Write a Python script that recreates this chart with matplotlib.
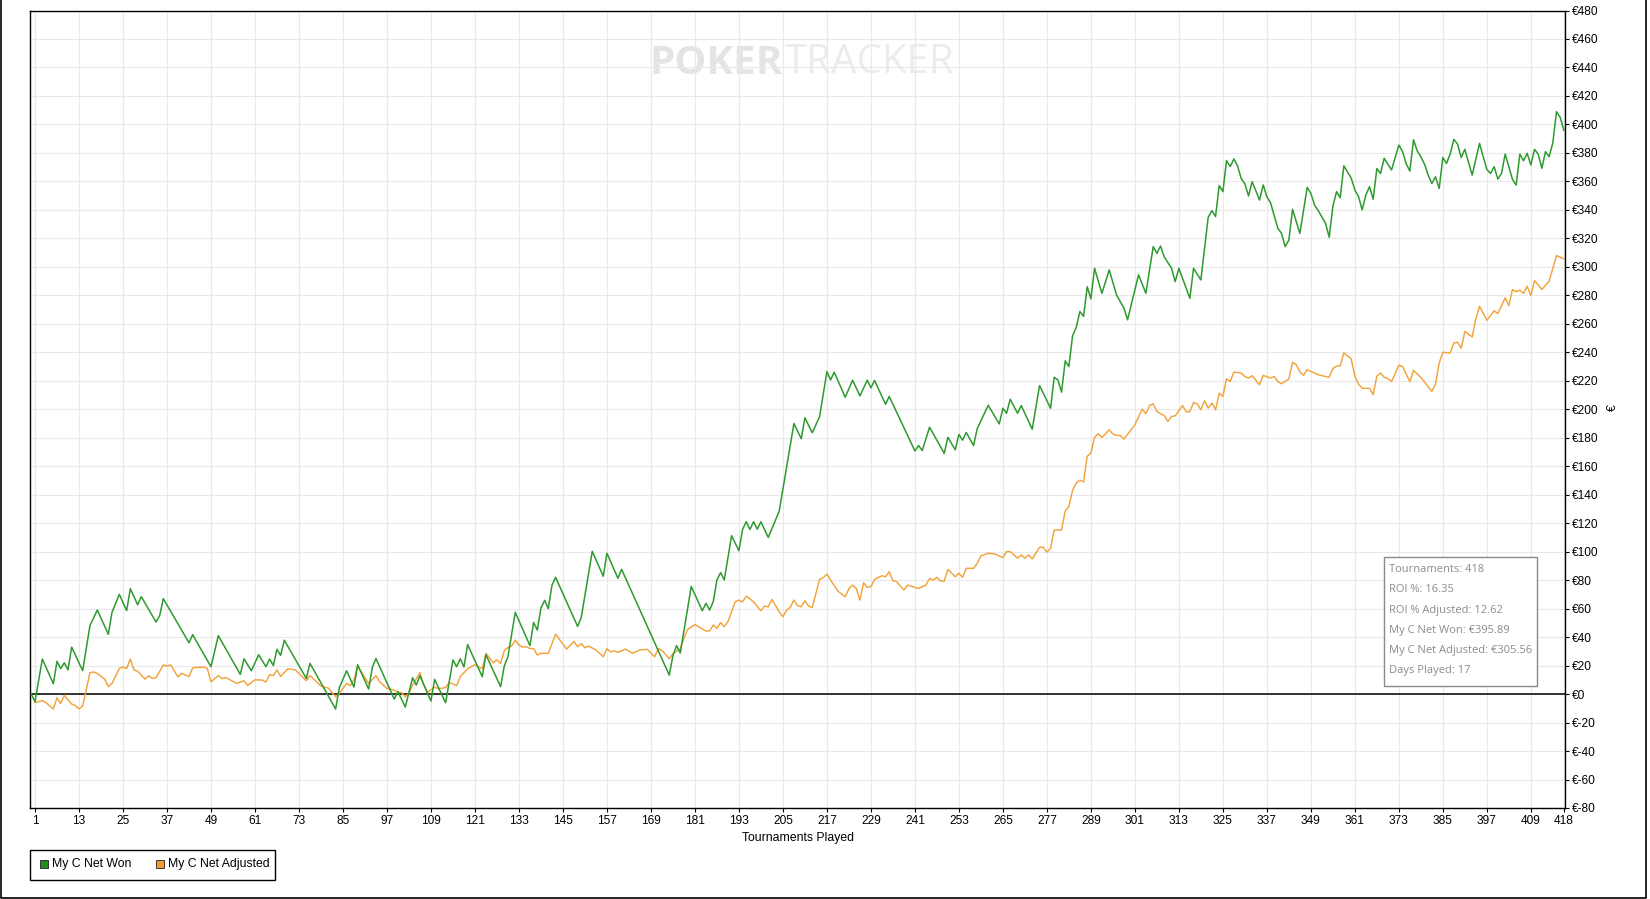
import matplotlib
matplotlib.use("Agg")
import matplotlib.pyplot as plt
from matplotlib.patches import Rectangle
from matplotlib.lines import Line2D

# ---------------- data (cumulative € by tournament, vertices of the curves) ----------------
won_t = [0, 1, 3, 6, 7, 8, 9, 10, 11, 14, 16, 18, 21, 22, 24, 26, 27, 29, 30, 34, 35, 36, 43, 44, 49, 51,
         57, 58, 60, 62, 64, 65, 66, 67, 68, 69, 75, 76, 83, 84, 86, 88, 89, 92, 93, 94, 99, 100, 102, 104,
         105, 106, 109, 110, 113, 115, 116, 117, 118, 119, 123, 124, 128, 129, 130, 132, 136, 137, 138, 139,
         140, 141, 142, 143, 149, 150, 153, 156, 157, 160, 161, 174, 175, 176, 177, 180, 183, 184, 185, 186,
         187, 188, 189, 191, 193, 194, 195, 196, 197, 198, 199, 201, 204, 208, 210, 211, 213, 215, 217, 218,
         219, 222, 224, 226, 228, 229, 230, 233, 234, 241, 242, 243, 245, 249, 250, 252, 253, 254, 255, 257,
         258, 261, 264, 265, 266, 267, 269, 270, 273, 275, 278, 279, 280, 281, 282, 283, 284, 285, 286, 287,
         288, 289, 290, 292, 294, 296, 298, 299, 302, 304, 306, 307, 308, 309, 311, 312, 313, 316, 317, 319,
         321, 322, 323, 324, 325, 326, 327, 328, 329, 330, 331, 332, 333, 335, 336, 337, 338, 340, 341, 342,
         343, 344, 346, 348, 349, 350, 351, 353, 354, 355, 356, 357, 358, 360, 361, 362, 363, 364, 365, 366,
         367, 368, 369, 371, 373, 374, 375, 376, 377, 378, 379, 380, 381, 382, 383, 384, 385, 386, 387, 388,
         389, 390, 391, 393, 395, 397, 398, 399, 400, 401, 402, 404, 405, 406, 407, 408, 409, 410, 411, 412,
         413, 414, 415, 416, 417, 418]
won_v = [0, -5.4, 24.6, 7.3, 23, 17.8, 22, 17, 33, 16.4, 48.2, 59, 42, 57.4, 70, 58.6, 74, 62.7, 68.4, 50.6,
         55, 67, 36, 41.7, 19.2, 41, 13.8, 24.8, 16.4, 27.6, 19.2, 24.6, 20, 31.4, 27.2, 37.8, 11, 21.6, -10.5,
         4.4, 16.4, 4.9, 20.6, 3.5, 18.7, 25, -3.5, 1.6, -9.1, 11.5, 6.3, 12.9, -4.9, 10.3, -6.1, 23.9, 19.2,
         24.8, 19, 34.7, 12.2, 27.6, 5.2, 19.7, 26.2, 57.4, 34, 50.3, 45, 60.4, 65.8, 60, 76.3, 82, 47.5, 53.9,
         100.2, 82.7, 98.9, 81.3, 87.6, 13.3, 27, 34, 28.8, 75.6, 58.5, 63.7, 59, 64.9, 80.1, 85.3, 80.1, 111.2,
         100.7, 115.6, 121, 115.6, 121, 115.8, 121, 110, 128.5, 190, 179.3, 194, 183.5, 194.8, 226.4, 220.6,
         226, 208.4, 220.4, 209.4, 220.4, 215, 220.2, 203.5, 209, 170.7, 174.5, 171, 187.4, 169, 180.3, 171.5,
         182.3, 178.3, 183.7, 174.5, 186.4, 202.8, 189.7, 200.7, 197.2, 207, 197.2, 202.6, 186, 216.6, 200.7,
         222.5, 220.6, 212, 234, 230, 251.5, 257.5, 268.6, 265.2, 286, 277.5, 299, 281.4, 297.8, 280.3, 271,
         262.8, 294.4, 281.4, 314.2, 309.5, 314.6, 307, 299, 289.6, 299, 277.9, 299, 290.8, 334.8, 339.5,
         335.3, 357.1, 352.8, 374.6, 370.4, 375.8, 370.9, 362, 358.2, 349.8, 359.8, 346.9, 357.5, 349.3, 345,
         327, 323.5, 314.2, 318.8, 340.4, 323.5, 355.8, 351.6, 343.4, 339.5, 330.6, 320.8, 342.4, 352.8, 348.5,
         370.9, 362.3, 354, 349.3, 340, 350.5, 356.3, 347.5, 369, 365.5, 376.2, 368, 385.5, 381, 372.4, 367.2,
         389.2, 381.5, 377.3, 372.1, 364.4, 358.5, 363.2, 355, 376.8, 372.6, 379.2, 389.5, 386.3, 376.8, 382.5,
         364.4, 386.7, 368.4, 365.6, 370.3, 361.6, 365.6, 379.2, 361.4, 357.4, 379.2, 374.5, 379.7, 371.5,
         382.5, 379.2, 369.2, 380.9, 377.3, 387.2, 409, 405, 395.89]

adj_t = [1, 3, 4, 6, 7, 8, 9, 10, 11, 12, 13, 14, 16, 17, 18, 20, 21, 22, 24, 25, 26, 27, 28, 29, 31, 32, 33,
         34, 36, 37, 38, 40, 41, 43, 44, 47, 48, 49, 51, 52, 53, 56, 58, 59, 61, 63, 64, 65, 66, 67, 68, 70,
         72, 75, 76, 79, 81, 83, 84, 86, 87, 88, 89, 90, 92, 94, 95, 97, 98, 100, 101, 102, 103, 104, 106, 107,
         108, 110, 111, 112, 113, 114, 116, 117, 119, 121, 123, 124, 126, 127, 128, 129, 130, 131, 132, 133,
         134, 135, 136, 137, 138, 139, 141, 143, 146, 148, 149, 150, 151, 152, 154, 156, 157, 158, 159, 160,
         162, 164, 166, 168, 170, 171, 172, 174, 175, 177, 178, 179, 181, 182, 184, 185, 186, 187, 188, 189,
         190, 192, 193, 194, 195, 197, 199, 200, 201, 202, 204, 205, 206, 207, 208, 209, 210, 211, 212, 213,
         215, 216, 217, 218, 220, 222, 223, 224, 225, 226, 227, 228, 229, 230, 232, 233, 234, 235, 236, 238,
         239, 241, 242, 244, 245, 246, 247, 248, 249, 250, 252, 253, 254, 255, 257, 258, 259, 261, 263, 265,
         266, 267, 269, 270, 271, 272, 273, 275, 276, 277, 278, 279, 281, 282, 283, 284, 285, 286, 287, 288,
         289, 290, 291, 292, 294, 295, 296, 297, 298, 301, 303, 304, 305, 306, 307, 309, 310, 311, 312, 314,
         315, 316, 317, 318, 319, 320, 321, 322, 323, 324, 325, 326, 327, 328, 330, 331, 332, 333, 335, 336,
         338, 339, 340, 341, 343, 344, 345, 346, 347, 348, 350, 351, 353, 354, 355, 356, 357, 358, 360, 361,
         362, 363, 365, 366, 367, 368, 369, 370, 371, 373, 374, 376, 377, 379, 382, 383, 384, 385, 387, 388,
         389, 390, 391, 393, 394, 395, 397, 399, 400, 402, 403, 404, 405, 406, 407, 408, 409, 410, 412, 414,
         416, 418]
adj_v = [-6, -4.6, -6, -10.5, -2.6, -6.6, -0.8, -4, -7, -8, -10.5, -8.4, 15, 15.5, 14.5, 10.5, 5.2, 7.5, 18,
         19, 18, 24.6, 16.9, 16, 10.5, 12.9, 11, 11.5, 20.4, 19.7, 20.4, 12, 14.6, 12.2, 18.4, 19, 18, 8.6, 13,
         10.8, 11.7, 7.5, 9.4, 6, 10, 9.8, 8.4, 13.6, 13, 17, 12.4, 17.8, 17, 9.4, 13, 5.6, 4.2, -1.9, 0.5,
         7.5, 6, 10, 19.2, 15.7, 7.5, 12.9, 8.7, 4, 3.5, 1.6, 0.9, -1.9, 0.5, 6.3, 15, 6.5, 1.2, 4.7, 4, 4,
         4.7, 8.2, 5.9, 12.2, 17.8, 20.6, 17.8, 28.6, 22, 24, 21.5, 30.4, 32.7, 33.7, 37.9, 34.4, 33, 33.2,
         32, 31.9, 27.4, 28.6, 28.6, 42, 31.6, 37, 33.2, 35.4, 32.5, 33.7, 31, 26.2, 31.9, 29.5, 30.4, 29.3,
         31.6, 28.6, 31, 31.4, 26.2, 31.9, 30.7, 24.8, 28.4, 32, 39, 45.4, 48.8, 47.3, 44.3, 44.3, 48.5, 46.2,
         50.2, 47.3, 50.8, 64.8, 66, 64.8, 68.8, 64.8, 58.5, 61.8, 61.3, 66.5, 57.8, 54.3, 59, 60.8, 66, 62,
         61.3, 65.5, 61.8, 60.8, 80.5, 81.7, 84.3, 80, 72.3, 68.3, 74, 76.5, 74.2, 66, 78.2, 74.9, 75.4, 80.5,
         83.1, 82.4, 85.9, 79.6, 78.9, 73, 76.5, 74.9, 74.2, 76.5, 81.2, 80, 82, 79.4, 79.4, 87.6, 82.4, 84.8,
         82, 88.3, 88.3, 91.8, 97, 98.9, 98.2, 95.8, 100, 100, 95.4, 97.7, 95.4, 97.7, 94.9, 103.1, 103.1,
         99.6, 102.4, 115.2, 115.2, 128.5, 131.6, 143, 148.2, 150.2, 149, 167, 169.2, 180.2, 182.8, 180.2,
         185.6, 182.6, 181.6, 181.6, 179, 189.1, 200.1, 196.8, 202.6, 203.8, 198.4, 195.6, 191.4, 194.9,
         195.4, 202.6, 198.2, 198.4, 204.7, 203.8, 199.6, 205.9, 200.8, 204.3, 199.6, 211.3, 209, 221.4,
         219.5, 226.1, 225.4, 223, 221.9, 223.5, 217.2, 223.8, 221.9, 223, 219.5, 217.9, 221.2, 232.9, 231.3,
         226.1, 223.8, 227.8, 225.4, 224.3, 223, 222.5, 228.6, 230.2, 230.5, 239.5, 235.5, 223.2, 217.7,
         214.7, 214.7, 210.3, 223.3, 225.4, 222.5, 221.6, 219.4, 231, 230, 219.4, 227.3, 222.4, 212.5, 217.7,
         232.4, 240, 239.5, 246.5, 247, 242.8, 254.7, 250.8, 263.4, 272.3, 262.5, 269.1, 267.2, 278.2, 272.8,
         284.1, 282.5, 283.6, 281.3, 286.4, 279.9, 290.4, 284.1, 290, 307.9, 305.56]

x_ticks = [1, 13, 25, 37, 49, 61, 73, 85, 97, 109, 121, 133, 145, 157, 169, 181, 193, 205, 217, 229, 241,
           253, 265, 277, 289, 301, 313, 325, 337, 349, 361, 373, 385, 397, 409, 418]
y_ticks = list(range(-80, 481, 20))

stats = ["Tournaments: 418", "ROI %: 16.35", "ROI % Adjusted: 12.62",
         "My C Net Won: \u20ac395.89", "My C Net Adjusted: \u20ac305.56", "Days Played: 17"]
series_names = ["My C Net Won", "My C Net Adjusted"]

GREEN = "#2e9a2e"
ORANGE = "#f2a33c"
W, H = 1650, 899
FONT = ["Liberation Sans", "DejaVu Sans"]

fig = plt.figure(figsize=(W / 100, H / 100), dpi=100)
fig.patch.set_facecolor("white")

# background overlay in pixel coordinates
bg = fig.add_axes([0, 0, 1, 1], zorder=0)
bg.set_xlim(0, W)
bg.set_ylim(H, 0)
bg.axis("off")

# main axes
L, R, T, B = 30.3, 1565.3, 10.5, 808.0
ax = fig.add_axes([L / W, 1 - B / H, (R - L) / W, (B - T) / H], zorder=1)
ax.set_facecolor("none")

# watermark
bg.text(783, 63, "POKER", fontsize=29, fontweight="bold", color="#e4e4e4",
        family=["Open Sans", "DejaVu Sans"], ha="right", va="center")
bg.text(785, 63, "TRACKER", fontsize=29, color="#ececec",
        family=["Open Sans", "DejaVu Sans"], ha="left", va="center")

# figure border (left, bottom, right)
bg.add_line(Line2D([0.8, 0.8, 1646.3, 1646.3], [0, 897.8, 897.8, 0], color="black", lw=1.2))

ax.set_xlim(-0.28, 418.4)
ax.set_ylim(-80, 480)

for xt in x_ticks:
    ax.axvline(xt, color="#e9e9e9", lw=0.8, zorder=0)
for yt in y_ticks:
    ax.axhline(yt, color="#e9e9e9", lw=0.8, zorder=0)
ax.axhline(0, color="black", lw=1.1, zorder=2)

ax.plot(adj_t, adj_v, color=ORANGE, lw=1.05, zorder=3)
ax.plot(won_t, won_v, color=GREEN, lw=1.1, zorder=4)

ax.set_xticks(x_ticks)
ax.set_xticklabels([str(v) for v in x_ticks])
ax.set_yticks(y_ticks)
ax.set_yticklabels(["\u20ac%d" % v for v in y_ticks])
ax.yaxis.tick_right()
ax.tick_params(axis="both", direction="out", length=3.2, width=0.8, color="black",
               labelsize=8.6, pad=1.5, labelcolor="black")
for lab in ax.get_xticklabels() + ax.get_yticklabels():
    lab.set_family(FONT)
for s in ax.spines.values():
    s.set_color("black")
    s.set_linewidth(1.0)

ax.set_xlabel("Tournaments Played", fontsize=8.8, family=FONT, labelpad=4)
# y-axis title (currency sign) placed at its pixel position
bg.text(1613, 408, "\u20ac", fontsize=8.8, family=FONT, rotation=90, ha="center", va="center")

# statistics box
ax.add_patch(Rectangle((1384.3, 557.3), 153, 128.7, transform=bg.transData,
                       facecolor="white", edgecolor="#8a8a8a", lw=1.0, zorder=6))
for i, s in enumerate(stats):
    ax.text(1389.3, 570 + 20 * i, s, transform=bg.transData, fontsize=8.0, color="#8c8c8c",
            family=["Open Sans", "DejaVu Sans"], ha="left", va="center", zorder=7)

# legend box
bg.add_patch(Rectangle((30.3, 849.7), 245, 30.3, facecolor="white", edgecolor="black", lw=1.0))
bg.add_patch(Rectangle((39.5, 860.3), 8, 8, facecolor="#1e8f1e", edgecolor="#222222", lw=0.6))
bg.text(52.3, 864.5, series_names[0], fontsize=8.8, family=FONT, ha="left", va="center")
bg.add_patch(Rectangle((155.7, 860.3), 8, 8, facecolor="#f39a32", edgecolor="#222222", lw=0.6))
bg.text(168.3, 864.5, series_names[1], fontsize=8.8, family=FONT, ha="left", va="center")

fig.savefig("out.png", dpi=100, facecolor="white")
